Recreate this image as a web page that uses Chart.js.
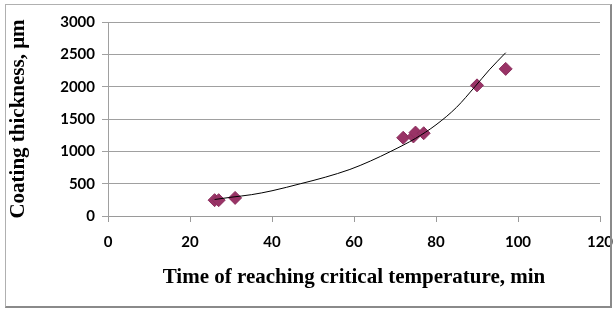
<!DOCTYPE html>
<html lang="en">
<head>
  <meta charset="UTF-8">
  <title>Coating thickness vs time</title>
  <script src="https://cdn.jsdelivr.net/npm/chart.js"></script>
  <style>
    html, body { margin: 0; padding: 0; background: #fff; }
    #wrap { position: relative; width: 614px; height: 309px; }
    #frame {
      position: absolute; left: 5px; top: 4px; width: 604px; height: 301px;
      border: 1px solid #b0b0b0; border-right: 2px solid #8a8a8a; border-bottom: 2px solid #8a8a8a;
      pointer-events: none;
    }
  </style>
</head>
<body>
  <div id="wrap">
    <canvas id="chartCanvas" width="614" height="309"></canvas>
    <div id="frame"></div>
  </div>

  <script>
    // measured points
    const timeMin = [26, 27, 31, 72, 74.5, 75, 77, 90, 97];
    const thickness = [245, 245, 280, 1210, 1230, 1290, 1280, 2020, 2275];

    // trend line
    const trendX = [26, 30, 35, 40, 47, 53, 59, 64, 69, 75, 80, 85, 89.5, 93, 97];
    const trendY = [255, 290, 330, 390, 500, 600, 720, 850, 1000, 1200, 1410, 1680, 2000, 2260, 2525];

    const xTicks = [0, 20, 40, 60, 80, 100, 120];
    const yTicks = [0, 500, 1000, 1500, 2000, 2500, 3000];

    const tickFont = { family: 'Lato', weight: 'bold', size: 15 };
    const titleFont = { family: 'Liberation Serif', weight: 'bold' };

    const ctx = document.getElementById('chartCanvas').getContext('2d');
    new Chart(ctx, {
      type: 'scatter',
      data: {
        datasets: [
          {
            label: 'trend',
            data: trendX.map((x, i) => ({ x: x, y: trendY[i] })),
            showLine: true,
            borderColor: '#000',
            borderWidth: 1,
            pointRadius: 0,
            cubicInterpolationMode: 'monotone',
            order: 0
          },
          {
            label: 'measured',
            data: timeMin.map((x, i) => ({ x: x, y: thickness[i] })),
            pointStyle: 'rectRot',
            pointRadius: 6.5,
            backgroundColor: '#993366',
            borderColor: '#8c2f5e',
            borderWidth: 1,
            order: 1
          }
        ]
      },
      options: {
        responsive: false,
        animation: false,
        layout: { padding: { top: 22, right: 14, left: 0, bottom: 0 } },
        plugins: { legend: { display: false }, tooltip: { enabled: false } },
        scales: {
          x: {
            type: 'linear',
            min: 0, max: 120,
            afterBuildTicks: s => { s.ticks = xTicks.map(v => ({ value: v })); },
            afterFit: s => { s.height = 93; s.paddingRight = 0; s.paddingLeft = 0; },
            grid: { drawOnChartArea: false, color: '#9a9a9a', tickLength: 6 },
            border: { color: '#9a9a9a' },
            ticks: { color: '#000', font: tickFont, padding: 11, maxRotation: 0, callback: v => String(v) },
            title: {
              display: true,
              text: 'Time of reaching critical temperature, min',
              color: '#000',
              font: { ...titleFont, size: 21 },
              padding: { top: 0, bottom: 19 }
            }
          },
          y: {
            min: 0, max: 3000,
            afterBuildTicks: s => { s.ticks = yTicks.map(v => ({ value: v })); },
            afterFit: s => { s.width = 108; s.paddingTop = 0; s.paddingBottom = 0; },
            grid: { color: '#a0a0a0', tickLength: 6 },
            border: { color: '#a0a0a0' },
            ticks: { color: '#000', font: tickFont, padding: 7, callback: v => String(v) },
            title: {
              display: true,
              text: 'Coating thickness, μm',
              color: '#000',
              font: { ...titleFont, size: 21 },
              padding: { top: 6, bottom: 0 }
            }
          }
        }
      }
    });
  </script>
</body>
</html>
